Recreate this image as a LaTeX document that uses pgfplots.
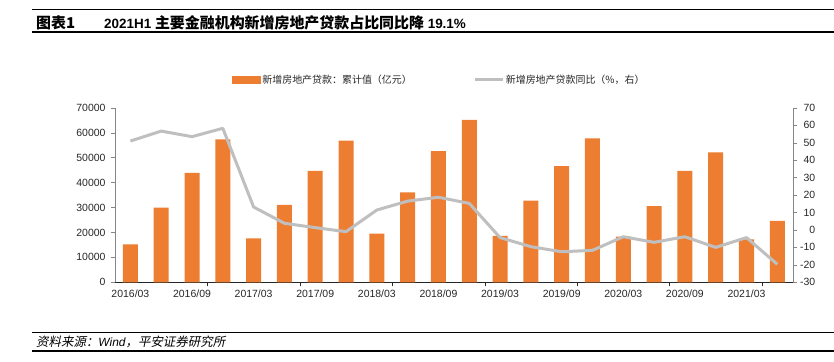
\documentclass[border=0pt]{standalone}
\usepackage{pgfplots}
\pgfplotsset{compat=1.18}
\usepackage{pgfplotstable}
\usepackage{fontspec}
\setmainfont{Liberation Sans}
\newfontfamily\cjk{Noto Sans CJK SC}
\newfontfamily\cjkit[FakeSlant=0.2]{Noto Sans CJK SC}
\definecolor{barorange}{HTML}{ED7D31}
\definecolor{linegray}{HTML}{BFBFBF}
\definecolor{axgray}{HTML}{868686}
\definecolor{txt}{HTML}{262626}

\pgfplotstableread{
x amt yoy
0 15200 50.9
1 29900 56.6
2 43900 53.4
3 57300 58.2
4 17600 13.1
5 31000 3.8
6 44700 1.3
7 56800 -1.0
8 19500 11.4
9 36100 16.5
10 52600 18.7
11 65100 15.2
12 18600 -4.4
13 32700 -9.6
14 46600 -12.5
15 57700 -11.7
16 18300 -3.9
17 30500 -7.1
18 44700 -3.9
19 52100 -10.0
20 17200 -4.4
21 24600 -19.7
}\datatable

\begin{document}
\begin{tikzpicture}
\useasboundingbox (0bp,0bp) rectangle (834bp,362bp);
% header rules and title
\draw[line width=1.3bp] (32bp,352.7bp) -- (834bp,352.7bp);
\draw[line width=1.3bp] (32bp,330bp) -- (834bp,330bp);
\node[anchor=west, inner sep=0] at (36bp,339.5bp) {\cjk\bfseries\fontsize{15}{15}\selectfont 图表1};
\node[anchor=west, inner sep=0] at (104bp,339.5bp) {\fontsize{13.5}{15}\selectfont\bfseries 2021H1 {\cjk\bfseries\fontsize{15}{15}\selectfont 主要金融机构新增房地产贷款占比同比降} 19.1\%};
% footer rules and source
\draw[line width=1.1bp] (32bp,29.7bp) -- (834bp,29.7bp);
\draw[line width=1.1bp] (32bp,11bp) -- (834bp,11bp);
\node[anchor=west, inner sep=0] at (36bp,20.3bp) {\cjkit\fontsize{12.5}{14}\selectfont 资料来源：{\normalfont\itshape\fontsize{12}{14}\selectfont Wind}，平安证券研究所};

\begin{axis}[
  at={(115bp,79.7bp)}, anchor=south west,
  width=677.7bp, height=174.6bp, scale only axis,
  ybar, bar width=15bp,
  xmin=-0.5, xmax=21.5, ymin=0, ymax=70000,
  ytick={0,10000,...,70000},
  scaled y ticks=false,
  /pgf/number format/assume math mode=true,
  /pgf/number format/1000 sep={},
  axis x line*=bottom, axis y line*=left,
  x axis line style={txt},
  y axis line style={axgray},
  xtick={0,2,...,20},
  xticklabels={2016/03,2016/09,2017/03,2017/09,2018/03,2018/09,2019/03,2019/09,2020/03,2020/09,2021/03},
  minor xtick={2.5,5.5,8.5,11.5,14.5,17.5,20.5},
  major x tick style={draw=none},
  minor x tick style={txt},
  major y tick style={axgray},
  tick align=outside,
  major tick length=4bp, minor tick length=4bp,
  ticklabel style={font=\fontsize{10.5}{12}\selectfont, text=txt},
  yticklabel style={xshift=-2bp},
  legend style={at={(0.1722,1.1587)}, anchor=west, draw=none, fill=none,
    inner sep=0pt, font=\cjk\fontsize{10}{12}\selectfont, text=txt,
    nodes={inner xsep=1.5bp, inner ysep=0pt},
    /tikz/every even column/.append style={column sep=60bp}},
  legend columns=2,
]
\addplot[fill=barorange, draw=none,
  legend image code/.code={\fill[barorange] (0bp,-4bp) rectangle (29bp,4bp);}]
  table[x=x, y=amt]{\datatable};
\addlegendentry{新增房地产贷款：累计值（亿元）}
\addlegendimage{legend image code/.code={\draw[linegray, line width=3bp] (0bp,0bp) -- (28bp,0bp);}}
\addlegendentry{新增房地产贷款同比（\%，右）}
\end{axis}

\begin{axis}[
  at={(115bp,79.7bp)}, anchor=south west,
  width=677.7bp, height=174.6bp, scale only axis,
  xmin=-0.5, xmax=21.5, ymin=-30, ymax=70,
  ytick={-30,-20,...,70},
  /pgf/number format/assume math mode=true,
  axis y line*=right, axis x line=none,
  y axis line style={axgray},
  major y tick style={axgray},
  tick align=outside, major tick length=4bp,
  ticklabel style={font=\fontsize{10.5}{12}\selectfont, text=txt},
  yticklabel style={anchor=east, xshift=22bp},
]
\addplot[linegray, line width=3bp, line join=round, no markers]
  table[x=x, y=yoy]{\datatable};
\end{axis}
\end{tikzpicture}
\end{document}
